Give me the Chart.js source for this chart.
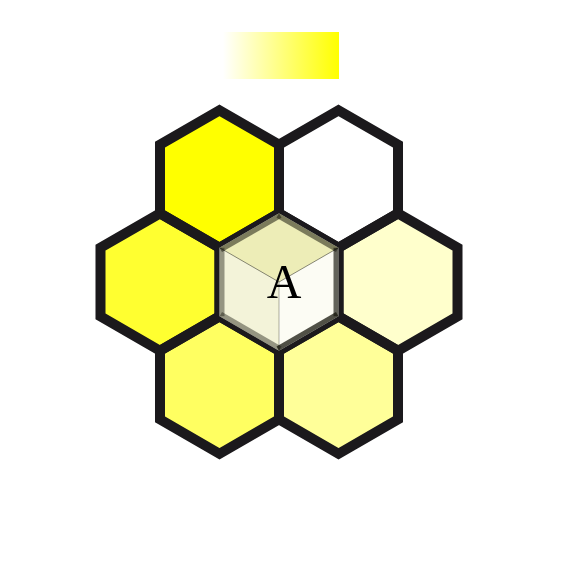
<!DOCTYPE html>
<html>
<head>
<meta charset="utf-8">
<title>Hex grid</title>
<script src="https://cdn.jsdelivr.net/npm/chart.js@4.4.1/dist/chart.umd.min.js"></script>
<style>
  html, body { margin: 0; padding: 0; background: #ffffff; }
  #hexChart { display: block; }
</style>
</head>
<body>
<canvas id="hexChart" width="568" height="567"></canvas>
<script>
// hex grid cells (column in half-widths, row from bottom)
const hexCol = [1, 3, 0, 2, 4, 1, 3];
const hexRow = [2, 2, 1, 1, 1, 0, 0];
const hexValue = [1.0, 0.0, 0.81, 0.03, 0.2, 0.62, 0.4];
const hexLabel = ["", "", "", "A", "", "", ""];
const selectedHex = 3;

// colour scale: white -> yellow
const scaleColors = ["#ffffff", "#ffff00"];

function valueColor(v) {
  const b = Math.round(255 * (1 - v));
  return "rgb(255,255," + b + ")";
}

function hexPath(ctx, cx, cy, r) {
  ctx.beginPath();
  for (let k = 0; k < 6; k++) {
    const a = -Math.PI / 2 + (k * Math.PI) / 3;
    const px = cx + r * Math.cos(a);
    const py = cy + r * Math.sin(a);
    if (k === 0) ctx.moveTo(px, py);
    else ctx.lineTo(px, py);
  }
  ctx.closePath();
}

function hexVertex(cx, cy, r, k) {
  const a = -Math.PI / 2 + (k * Math.PI) / 3;
  return [cx + r * Math.cos(a), cy + r * Math.sin(a)];
}

function poly(ctx, pts) {
  ctx.beginPath();
  ctx.moveTo(pts[0][0], pts[0][1]);
  for (let k = 1; k < pts.length; k++) ctx.lineTo(pts[k][0], pts[k][1]);
  ctx.closePath();
}

const hexPlugin = {
  id: "hexPlugin",
  afterDatasetsDraw(chart) {
    const ctx = chart.ctx;
    const xs = chart.scales.x;
    const halfW = xs.getPixelForValue(1) - xs.getPixelForValue(0);
    const r = (halfW * 2) / Math.sqrt(3);
    const pts = chart.getDatasetMeta(0).data;

    ctx.save();
    // fills
    pts.forEach((p, i) => {
      hexPath(ctx, p.x, p.y, r);
      ctx.fillStyle = valueColor(hexValue[i]);
      ctx.fill();
    });
    // outlines
    ctx.lineWidth = 10;
    ctx.lineJoin = "miter";
    ctx.strokeStyle = "#1b191c";
    pts.forEach((p) => {
      hexPath(ctx, p.x, p.y, r);
      ctx.stroke();
    });

    // selected cell drawn as a small cube
    const s = pts[selectedHex];
    const c = [s.x, s.y];
    const v = [];
    for (let k = 0; k < 6; k++) v.push(hexVertex(s.x, s.y, r, k));
    ctx.save();
    hexPath(ctx, s.x, s.y, r);
    ctx.clip();
    ctx.fillStyle = valueColor(hexValue[selectedHex]);
    ctx.fillRect(s.x - r, s.y - r, 2 * r, 2 * r);
    // top face
    poly(ctx, [c, v[5], v[0], v[1]]);
    ctx.fillStyle = "rgba(185,185,0,0.26)";
    ctx.fill();
    // left face
    poly(ctx, [c, v[3], v[4], v[5]]);
    ctx.fillStyle = "rgba(155,155,0,0.12)";
    ctx.fill();
    // right face
    poly(ctx, [c, v[1], v[2], v[3]]);
    ctx.fillStyle = "rgba(120,120,80,0.02)";
    ctx.fill();

    // bevel band along each edge
    const edgeAlpha = [0.53, 0.66, 0.74, 0.42, 0.42, 0.53];
    ctx.lineWidth = 10;
    ctx.lineCap = "butt";
    for (let k = 0; k < 6; k++) {
      const a = v[k];
      const b = v[(k + 1) % 6];
      ctx.beginPath();
      ctx.moveTo(a[0], a[1]);
      ctx.lineTo(b[0], b[1]);
      ctx.strokeStyle = "rgba(20,20,10," + edgeAlpha[k] + ")";
      ctx.stroke();
    }

    // cube edges
    ctx.lineWidth = 1;
    ctx.strokeStyle = "rgba(0,0,0,0.45)";
    [v[5], v[1]].forEach((q) => {
      ctx.beginPath();
      ctx.moveTo(c[0], c[1]);
      ctx.lineTo(q[0], q[1]);
      ctx.stroke();
    });
    ctx.strokeStyle = "rgba(0,0,0,0.3)";
    ctx.beginPath();
    ctx.moveTo(c[0], c[1]);
    ctx.lineTo(v[3][0], v[3][1]);
    ctx.stroke();
    ctx.restore();

    // labels
    ctx.fillStyle = "#000000";
    ctx.font = '48px "Liberation Serif", "DejaVu Serif", serif';
    ctx.textAlign = "center";
    ctx.textBaseline = "alphabetic";
    pts.forEach((p, i) => {
      if (hexLabel[i]) ctx.fillText(hexLabel[i], p.x + 5, p.y + 16);
    });

    // colour scale bar
    const bx = 223, by = 32, bw = 116, bh = 47;
    const grad = ctx.createLinearGradient(bx, 0, bx + bw, 0);
    grad.addColorStop(0, scaleColors[0]);
    grad.addColorStop(1, scaleColors[1]);
    ctx.fillStyle = grad;
    ctx.fillRect(bx, by, bw, bh);
    ctx.restore();
  },
};

const points = hexCol.map((x, i) => ({ x: x, y: hexRow[i] }));

new Chart(document.getElementById("hexChart"), {
  type: "scatter",
  data: {
    datasets: [
      {
        data: points,
        pointRadius: 0,
        pointHoverRadius: 0,
      },
    ],
  },
  options: {
    responsive: false,
    animation: false,
    events: [],
    layout: { padding: 0 },
    plugins: {
      legend: { display: false },
      tooltip: { enabled: false },
    },
    scales: {
      x: { type: "linear", min: -2.689, max: 6.857, display: false },
      y: { type: "linear", min: -1.767, max: 3.738, display: false },
    },
  },
  plugins: [hexPlugin],
});
</script>
</body>
</html>
